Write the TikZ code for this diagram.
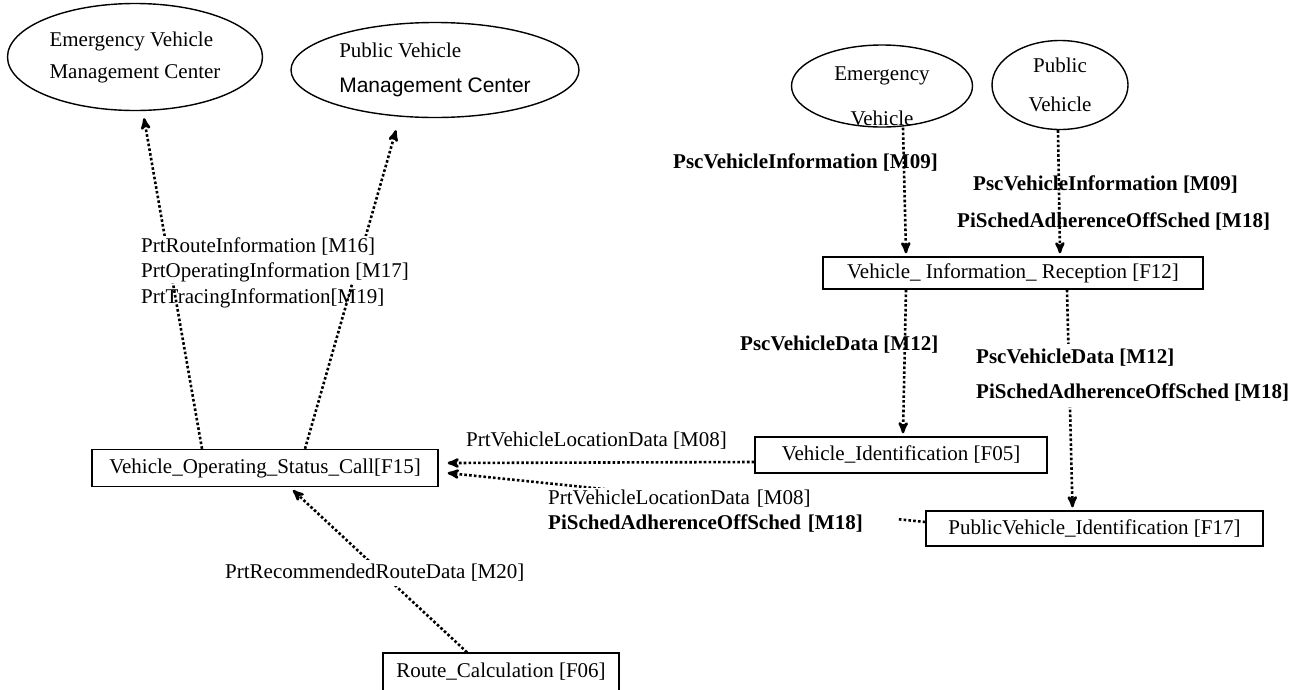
\documentclass[tikz,border=0pt]{standalone}
\usepackage{fontspec}
\setmainfont{Liberation Serif}
\newfontfamily\arialfont{Liberation Sans}
\usepackage{tikz}
\usetikzlibrary{arrows}
\usetikzlibrary{shapes.geometric}
\newcommand{\diagfont}{\fontsize{21}{25}\selectfont}

\begin{document}
\begin{tikzpicture}[x=1pt,y=-1pt,>=stealth',
		ent/.style={ellipse,draw=black,line width=1.4pt,inner sep=0pt,align=left,font=\diagfont},
		func/.style={rectangle,draw=black,line width=1.4pt,inner sep=0pt,font=\diagfont},
		lbl/.style={inner sep=1pt,align=left,font=\diagfont},
		blbl/.style={lbl,font=\diagfont\bfseries},
		flow/.style={->,line width=2.6pt,dash pattern=on 2.6pt off 2.2pt}]
		\useasboundingbox (0,0) rectangle (1298,689);
		
		% terminators
		\node[ent,minimum width=255pt,minimum height=107pt] (evmc) at (135,57) {Emergency Vehicle\\[7pt]Management Center};
		\node[ent,minimum width=288pt,minimum height=95pt]  (pvmc) at (435,70) {Public Vehicle\\[10pt]{\arialfont Management Center}};
		\node[ent,minimum width=181pt,minimum height=82pt]  (ev)   at (882,86) {};
		\node[lbl,align=center]                              (evtext) at (882,96) {Emergency\\[20pt]Vehicle};
		\node[ent,align=center,minimum width=136pt,minimum height=89pt] (pv) at (1060,85) {Public\\[14pt]Vehicle};
		
		% functions
		\node[func,minimum width=380pt,minimum height=32pt] (f12)   at (1013,273)   {Vehicle\_ Information\_ Reception [F12]};
		\node[func,minimum width=346pt,minimum height=37pt] (f15)   at (265,468)    {Vehicle\_Operating\_Status\_Call[F15]};
		\node[func,minimum width=292pt,minimum height=36pt] (f05)   at (901,455)    {Vehicle\_Identification [F05]};
		\node[func,minimum width=337pt,minimum height=35pt] (f17)   at (1094.5,528.5) {PublicVehicle\_Identification [F17]};
		\node[func,minimum width=236pt,minimum height=38pt] (route) at (501,672)    {Route\_Calculation [F06]};
		
		% data flows
		\draw[flow] ([xshift=-63pt]f15.north) -- ([xshift=9pt,yshift=-7pt]evmc.south);
		\draw[flow] ([xshift=40pt]f15.north) -- ([xshift=-39pt,yshift=-12pt]pvmc.south);
		\draw[flow] ([xshift=21pt]ev.south) -- ([xshift=-107pt,yshift=3pt]f12.north);
		\draw[flow] ([xshift=-2pt]pv.south) -- ([xshift=47pt,yshift=3pt]f12.north);
		\draw[flow] ([xshift=-107pt]f12.south) -- ([xshift=2pt,yshift=3pt]f05.north);
		\draw[flow] ([xshift=54pt]f12.south) -- ([xshift=-22pt,yshift=3pt]f17.north);
		\draw[flow] ([yshift=-7pt]f05.west) -- ([xshift=9pt,yshift=5pt]f15.east);
		\draw[flow] ([yshift=6.5pt]f17.west) -- ([xshift=9pt,yshift=-5pt]f15.east);
		\draw[flow] ([xshift=-34pt]route.north) -- ([xshift=28pt,yshift=-3pt]f15.south);
		
		% flow labels
		\node[lbl,fill=white,anchor=west] (m16) at (140,259.5) {PrtRouteInformation [M16]\\PrtOperatingInformation [M17]};
		\node[lbl,anchor=west]            (m19) at (140,298)   {PrtTracingInformation[M19]};
		\node[blbl,anchor=west] (m09a) at (672,163) {PscVehicleInformation [M09]};
		\node[blbl,anchor=west] (m09b) at (972,185) {PscVehicleInformation [M09]};
		\node[blbl,anchor=west] (m18a) at (956,222) {PiSchedAdherenceOffSched [M18]};
		\node[blbl,anchor=west] (m12a) at (739,345) {PscVehicleData [M12]};
		\node[blbl,fill=white,anchor=west,inner ysep=5pt] (m12b) at (975,375.5) {PscVehicleData [M12]\\[10pt]PiSchedAdherenceOffSched [M18]};
		\node[lbl,anchor=west]  (m08a) at (465,441) {PrtVehicleLocationData [M08]};
		\node[lbl,fill=white,anchor=north west,text width=345pt,inner xsep=4pt,inner ysep=2pt] (m08b) at (544,488)
			{PrtVehicleLocationData [M08]\\{\bfseries PiSchedAdherenceOffSched [M18]}};
		\node[lbl,fill=white,anchor=west,inner ysep=4pt] (m20) at (224,573) {PrtRecommendedRouteData [M20]};
\end{tikzpicture}
\end{document}
